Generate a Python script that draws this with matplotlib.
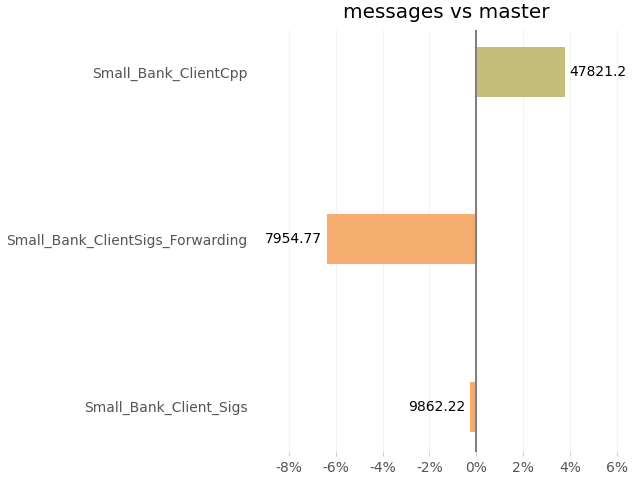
import matplotlib
matplotlib.use("Agg")
import matplotlib.pyplot as plt
from matplotlib.ticker import FuncFormatter

labels = ["Small_Bank_Client_Sigs", "Small_Bank_ClientSigs_Forwarding", "Small_Bank_ClientCpp"]
changes = [-0.28, -6.38, 3.79]
values = ["9862.22", "7954.77", "47821.2"]
colors = ["#f5ae6f", "#f5ae6f", "#c3bf7a"]

fig = plt.figure(figsize=(6.4, 4.8), dpi=100)
ax = fig.add_axes([0.4, 0.0583, 0.586, 0.879])

ypos = list(range(len(labels)))
ax.barh(ypos, changes, height=0.3, color=colors, zorder=2)
ax.axvline(0, color="#808080", lw=1.5, zorder=3)

for y, c, v in zip(ypos, changes, values):
    if c >= 0:
        ax.text(c + 0.18, y, v, va="center", ha="left", fontsize=10, color="black")
    else:
        ax.text(c - 0.2, y, v, va="center", ha="right", fontsize=10, color="black")

ax.set_xlim(-9.4, 6.6)
ax.set_ylim(-0.27, 2.25)
ax.set_xticks(range(-8, 7, 2))
ax.xaxis.set_major_formatter(FuncFormatter(lambda x, p: f"{int(x)}%"))
ax.set_yticks(ypos)
ax.set_yticklabels(labels)
ax.tick_params(axis="x", colors="#cccccc", labelcolor="#555555", labelsize=10, length=3)
ax.tick_params(axis="y", length=0, labelcolor="#555555", labelsize=10, pad=6)
ax.grid(axis="x", color="#f2f2f2", lw=0.8, zorder=0)
for s in ax.spines.values():
    s.set_visible(False)

ax.set_title("messages vs master", fontsize=14.4, pad=9, x=0.507)
fig.savefig("out.png")
